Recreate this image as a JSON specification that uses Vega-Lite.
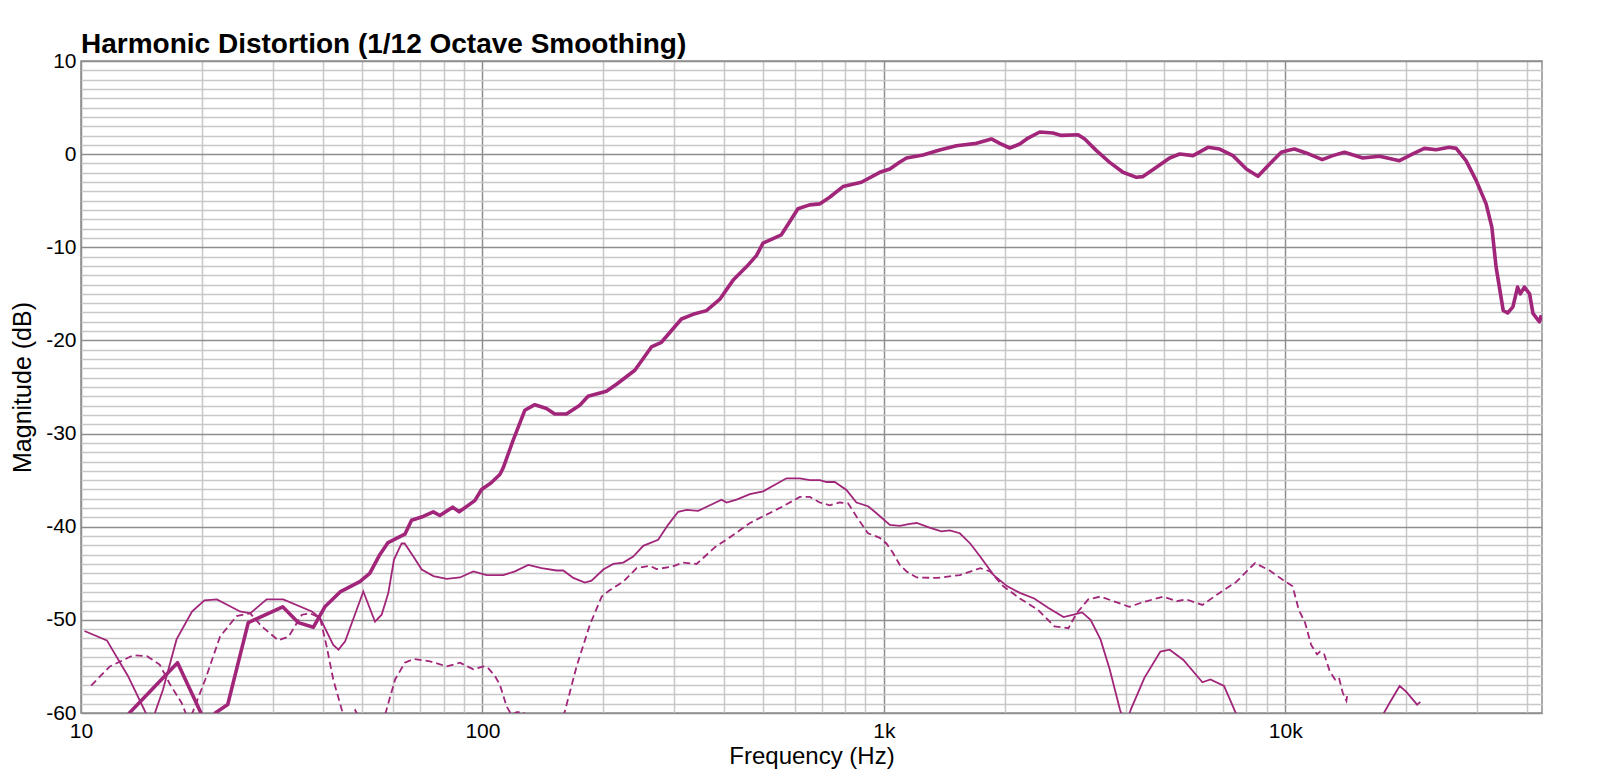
{
 "$schema": "https://vega.github.io/schema/vega-lite/v6.json",
 "width": 1461,
 "height": 652,
 "autosize": {"type": "none"},
 "padding": {"left": 81, "top": 61, "right": 58, "bottom": 70},
 "background": "white",
 "title": {"text": "Harmonic Distortion (1/12 Octave Smoothing)", "anchor": "start", "frame": "group", "font": "Liberation Sans", "fontSize": 28, "fontWeight": "bold", "color": "#000000", "offset": 5, "dy": 14},
 "config": {"view": {"stroke": "#8e8e8e", "strokeWidth": 1.5}},
 "data": {"values": [
  {"s":"F","f":12,"d":-64},{"s":"F","f":13.2,"d":-60},{"s":"F","f":17.4,"d":-54.6},{"s":"F","f":19.9,"d":-60},{"s":"F","f":20.7,"d":-62},{"s":"F","f":21.6,"d":-60},{"s":"F","f":23.2,"d":-59.1},{"s":"F","f":26.1,"d":-50.3},{"s":"F","f":31.8,"d":-48.6},{"s":"F","f":34.8,"d":-50.3},{"s":"F","f":37.9,"d":-50.8},{"s":"F","f":40.5,"d":-48.6},{"s":"F","f":44.2,"d":-47.0},{"s":"F","f":49.5,"d":-45.9},{"s":"F","f":52.4,"d":-45.0},{"s":"F","f":55.5,"d":-43.0},{"s":"F","f":58.2,"d":-41.7},{"s":"F","f":64.1,"d":-40.8},{"s":"F","f":66.6,"d":-39.3},{"s":"F","f":71.2,"d":-38.9},{"s":"F","f":75.4,"d":-38.4},{"s":"F","f":78.3,"d":-38.8},{"s":"F","f":84.3,"d":-37.9},{"s":"F","f":87.5,"d":-38.4},{"s":"F","f":95.7,"d":-37.2},{"s":"F","f":99.5,"d":-36.0},{"s":"F","f":105,"d":-35.3},{"s":"F","f":110.5,"d":-34.4},{"s":"F","f":112.6,"d":-33.7},{"s":"F","f":119.3,"d":-30.7},{"s":"F","f":127.5,"d":-27.5},{"s":"F","f":135.1,"d":-26.9},{"s":"F","f":144.4,"d":-27.3},{"s":"F","f":151.4,"d":-27.9},{"s":"F","f":161.9,"d":-27.9},{"s":"F","f":174.8,"d":-26.95},{"s":"F","f":183.3,"d":-26.0},{"s":"F","f":203.6,"d":-25.45},{"s":"F","f":215.8,"d":-24.7},{"s":"F","f":239.7,"d":-23.2},{"s":"F","f":263.6,"d":-20.7},{"s":"F","f":279.2,"d":-20.2},{"s":"F","f":313.1,"d":-17.7},{"s":"F","f":334.7,"d":-17.2},{"s":"F","f":361.4,"d":-16.8},{"s":"F","f":389.9,"d":-15.6},{"s":"F","f":420.8,"d":-13.55},{"s":"F","f":454.6,"d":-12.1},{"s":"F","f":481.4,"d":-10.9},{"s":"F","f":500,"d":-9.55},{"s":"F","f":555.5,"d":-8.66},{"s":"F","f":611,"d":-5.87},{"s":"F","f":653,"d":-5.45},{"s":"F","f":691.7,"d":-5.34},{"s":"F","f":732.8,"d":-4.63},{"s":"F","f":791,"d":-3.48},{"s":"F","f":879,"d":-3.02},{"s":"F","f":977,"d":-1.95},{"s":"F","f":1035,"d":-1.59},{"s":"F","f":1094,"d":-0.88},{"s":"F","f":1139,"d":-0.41},{"s":"F","f":1252,"d":-0.09},{"s":"F","f":1377,"d":0.45},{"s":"F","f":1516,"d":0.91},{"s":"F","f":1701,"d":1.16},{"s":"F","f":1853,"d":1.63},{"s":"F","f":1944,"d":1.16},{"s":"F","f":2059,"d":0.66},{"s":"F","f":2181,"d":1.09},{"s":"F","f":2287,"d":1.73},{"s":"F","f":2445,"d":2.38},{"s":"F","f":2638,"d":2.27},{"s":"F","f":2769,"d":2.01},{"s":"F","f":3046,"d":2.09},{"s":"F","f":3165,"d":1.63},{"s":"F","f":3385,"d":0.38},{"s":"F","f":3652,"d":-0.88},{"s":"F","f":3942,"d":-1.95},{"s":"F","f":4257,"d":-2.49},{"s":"F","f":4421,"d":-2.41},{"s":"F","f":4775,"d":-1.41},{"s":"F","f":5152,"d":-0.41},{"s":"F","f":5456,"d":0.02},{"s":"F","f":5890,"d":-0.16},{"s":"F","f":6418,"d":0.73},{"s":"F","f":6863,"d":0.55},{"s":"F","f":7405,"d":-0.16},{"s":"F","f":7998,"d":-1.59},{"s":"F","f":8549,"d":-2.38},{"s":"F","f":9141,"d":-1.05},{"s":"F","f":9772,"d":0.2},{"s":"F","f":10250,"d":0.45},{"s":"F","f":10540,"d":0.55},{"s":"F","f":11270,"d":0.13},{"s":"F","f":12360,"d":-0.59},{"s":"F","f":13130,"d":-0.16},{"s":"F","f":14040,"d":0.2},{"s":"F","f":15600,"d":-0.41},{"s":"F","f":17170,"d":-0.23},{"s":"F","f":19250,"d":-0.7},{"s":"F","f":20780,"d":0.02},{"s":"F","f":22200,"d":0.62},{"s":"F","f":23760,"d":0.48},{"s":"F","f":25600,"d":0.73},{"s":"F","f":26650,"d":0.62},{"s":"F","f":28200,"d":-0.7},{"s":"F","f":29900,"d":-2.84},{"s":"F","f":31640,"d":-5.34},{"s":"F","f":32700,"d":-7.84},{"s":"F","f":33500,"d":-12.1},{"s":"F","f":34900,"d":-16.77},{"s":"F","f":35800,"d":-17.05},{"s":"F","f":36900,"d":-16.4},{"s":"F","f":37900,"d":-14.27},{"s":"F","f":38500,"d":-15.0},{"s":"F","f":39400,"d":-14.27},{"s":"F","f":40600,"d":-15.0},{"s":"F","f":41400,"d":-17.1},{"s":"F","f":42970,"d":-18.0},{"s":"F","f":43400,"d":-17.3},
  {"s":"H2","f":10.2,"d":-51.2},{"s":"H2","f":11.6,"d":-52.2},{"s":"H2","f":13.1,"d":-56.05},{"s":"H2","f":14.5,"d":-60},{"s":"H2","f":15.0,"d":-61},{"s":"H2","f":16.0,"d":-57.5},{"s":"H2","f":17.3,"d":-52.1},{"s":"H2","f":18.9,"d":-49.1},{"s":"H2","f":20.3,"d":-47.9},{"s":"H2","f":21.8,"d":-47.8},{"s":"H2","f":24.9,"d":-49.1},{"s":"H2","f":26.4,"d":-49.3},{"s":"H2","f":29.0,"d":-47.8},{"s":"H2","f":31.9,"d":-47.8},{"s":"H2","f":37.6,"d":-49.1},{"s":"H2","f":39.4,"d":-49.8},{"s":"H2","f":42.5,"d":-52.7},{"s":"H2","f":43.8,"d":-53.2},{"s":"H2","f":45.5,"d":-52.3},{"s":"H2","f":50.5,"d":-46.95},{"s":"H2","f":54.0,"d":-50.2},{"s":"H2","f":56.1,"d":-49.45},{"s":"H2","f":58.3,"d":-47.1},{"s":"H2","f":60.2,"d":-43.55},{"s":"H2","f":62.9,"d":-41.8},{"s":"H2","f":64.0,"d":-41.8},{"s":"H2","f":67.3,"d":-43.2},{"s":"H2","f":70.6,"d":-44.6},{"s":"H2","f":75.5,"d":-45.3},{"s":"H2","f":81.5,"d":-45.6},{"s":"H2","f":87.9,"d":-45.45},{"s":"H2","f":94.9,"d":-44.8},{"s":"H2","f":102.5,"d":-45.2},{"s":"H2","f":112.7,"d":-45.2},{"s":"H2","f":120.5,"d":-44.8},{"s":"H2","f":130.1,"d":-44.1},{"s":"H2","f":140.4,"d":-44.45},{"s":"H2","f":153,"d":-44.7},{"s":"H2","f":159,"d":-44.7},{"s":"H2","f":168.4,"d":-45.5},{"s":"H2","f":180,"d":-46.0},{"s":"H2","f":187,"d":-45.8},{"s":"H2","f":200,"d":-44.6},{"s":"H2","f":211.8,"d":-44.0},{"s":"H2","f":224.3,"d":-43.85},{"s":"H2","f":237.5,"d":-43.2},{"s":"H2","f":251.5,"d":-42.05},{"s":"H2","f":274,"d":-41.4},{"s":"H2","f":290,"d":-39.8},{"s":"H2","f":307.4,"d":-38.4},{"s":"H2","f":322.6,"d":-38.2},{"s":"H2","f":344.7,"d":-38.3},{"s":"H2","f":368.7,"d":-37.7},{"s":"H2","f":394.2,"d":-37.1},{"s":"H2","f":405.6,"d":-37.4},{"s":"H2","f":429.6,"d":-37.1},{"s":"H2","f":463.8,"d":-36.5},{"s":"H2","f":500.4,"d":-36.2},{"s":"H2","f":535.2,"d":-35.5},{"s":"H2","f":572.2,"d":-34.8},{"s":"H2","f":617.6,"d":-34.8},{"s":"H2","f":654,"d":-35.0},{"s":"H2","f":692.6,"d":-35.0},{"s":"H2","f":719.6,"d":-35.2},{"s":"H2","f":754.6,"d":-35.2},{"s":"H2","f":807,"d":-36.05},{"s":"H2","f":854.5,"d":-37.4},{"s":"H2","f":913.3,"d":-37.8},{"s":"H2","f":958.7,"d":-38.55},{"s":"H2","f":1035,"d":-39.8},{"s":"H2","f":1096,"d":-39.9},{"s":"H2","f":1161,"d":-39.7},{"s":"H2","f":1207,"d":-39.6},{"s":"H2","f":1300,"d":-40.1},{"s":"H2","f":1390,"d":-40.5},{"s":"H2","f":1459,"d":-40.4},{"s":"H2","f":1546,"d":-40.7},{"s":"H2","f":1641,"d":-41.8},{"s":"H2","f":1737,"d":-43.2},{"s":"H2","f":1877,"d":-45.2},{"s":"H2","f":2031,"d":-46.4},{"s":"H2","f":2181,"d":-47.1},{"s":"H2","f":2369,"d":-47.7},{"s":"H2","f":2565,"d":-48.7},{"s":"H2","f":2803,"d":-49.7},{"s":"H2","f":2969,"d":-49.45},{"s":"H2","f":3118,"d":-49.2},{"s":"H2","f":3273,"d":-50.0},{"s":"H2","f":3465,"d":-52.1},{"s":"H2","f":3652,"d":-55.3},{"s":"H2","f":3872,"d":-59.6},{"s":"H2","f":4000,"d":-61.5},{"s":"H2","f":4124,"d":-59.6},{"s":"H2","f":4460,"d":-56.2},{"s":"H2","f":4885,"d":-53.4},{"s":"H2","f":5152,"d":-53.2},{"s":"H2","f":5574,"d":-54.3},{"s":"H2","f":6216,"d":-56.7},{"s":"H2","f":6508,"d":-56.4},{"s":"H2","f":7037,"d":-57.1},{"s":"H2","f":7405,"d":-59.3},{"s":"H2","f":7560,"d":-60.2},{"s":"H2","f":8500,"d":-64},{"s":"H2","f":16500,"d":-64},{"s":"H2","f":17500,"d":-60.2},{"s":"H2","f":18200,"d":-58.9},{"s":"H2","f":19270,"d":-57.1},{"s":"H2","f":20000,"d":-57.7},{"s":"H2","f":21300,"d":-59.1},{"s":"H2","f":21700,"d":-58.8},
  {"s":"H3","f":10.6,"d":-57.05},{"s":"H3","f":11.8,"d":-55.0},{"s":"H3","f":13.5,"d":-53.8},{"s":"H3","f":14.6,"d":-53.9},{"s":"H3","f":15.7,"d":-54.8},{"s":"H3","f":16.7,"d":-57.0},{"s":"H3","f":17.8,"d":-58.9},{"s":"H3","f":18.3,"d":-60.2},{"s":"H3","f":18.6,"d":-61},{"s":"H3","f":18.9,"d":-60.1},{"s":"H3","f":20.4,"d":-56.4},{"s":"H3","f":22.2,"d":-51.8},{"s":"H3","f":24.4,"d":-49.6},{"s":"H3","f":26.4,"d":-49.3},{"s":"H3","f":28.2,"d":-50.7},{"s":"H3","f":31.0,"d":-52.2},{"s":"H3","f":32.9,"d":-51.8},{"s":"H3","f":35.5,"d":-49.45},{"s":"H3","f":37.2,"d":-49.3},{"s":"H3","f":39.4,"d":-49.8},{"s":"H3","f":40.9,"d":-52.8},{"s":"H3","f":42.5,"d":-56.4},{"s":"H3","f":45.0,"d":-60.2},{"s":"H3","f":46.5,"d":-61},{"s":"H3","f":48.2,"d":-59.7},{"s":"H3","f":50,"d":-61},{"s":"H3","f":54,"d":-63},{"s":"H3","f":57.2,"d":-60.2},{"s":"H3","f":60.6,"d":-56.4},{"s":"H3","f":64.1,"d":-54.6},{"s":"H3","f":67.3,"d":-54.2},{"s":"H3","f":74.0,"d":-54.45},{"s":"H3","f":81.5,"d":-55.0},{"s":"H3","f":87.9,"d":-54.6},{"s":"H3","f":94.9,"d":-55.3},{"s":"H3","f":100.5,"d":-55.0},{"s":"H3","f":103,"d":-55.1},{"s":"H3","f":107.5,"d":-56.05},{"s":"H3","f":110.6,"d":-57.0},{"s":"H3","f":114.9,"d":-59.3},{"s":"H3","f":118.2,"d":-60.2},{"s":"H3","f":121.7,"d":-59.9},{"s":"H3","f":126.5,"d":-59.9},{"s":"H3","f":130,"d":-61},{"s":"H3","f":145,"d":-62},{"s":"H3","f":157,"d":-61},{"s":"H3","f":160.5,"d":-59.8},{"s":"H3","f":171.6,"d":-55.0},{"s":"H3","f":185.3,"d":-50.5},{"s":"H3","f":198.2,"d":-47.5},{"s":"H3","f":207.8,"d":-46.8},{"s":"H3","f":224.3,"d":-45.9},{"s":"H3","f":242.2,"d":-44.45},{"s":"H3","f":261.4,"d":-44.2},{"s":"H3","f":271.5,"d":-44.55},{"s":"H3","f":296,"d":-44.3},{"s":"H3","f":316.5,"d":-43.85},{"s":"H3","f":341.6,"d":-44.0},{"s":"H3","f":379.5,"d":-42.2},{"s":"H3","f":421.3,"d":-40.9},{"s":"H3","f":463.8,"d":-39.6},{"s":"H3","f":510.5,"d":-38.7},{"s":"H3","f":561,"d":-37.8},{"s":"H3","f":617.6,"d":-36.8},{"s":"H3","f":654,"d":-36.8},{"s":"H3","f":692.6,"d":-37.4},{"s":"H3","f":733,"d":-37.7},{"s":"H3","f":776,"d":-37.4},{"s":"H3","f":815,"d":-37.5},{"s":"H3","f":854.5,"d":-38.9},{"s":"H3","f":913,"d":-40.7},{"s":"H3","f":977,"d":-41.2},{"s":"H3","f":1015,"d":-41.8},{"s":"H3","f":1053,"d":-42.8},{"s":"H3","f":1096,"d":-44.1},{"s":"H3","f":1139,"d":-44.8},{"s":"H3","f":1207,"d":-45.45},{"s":"H3","f":1354,"d":-45.5},{"s":"H3","f":1546,"d":-45.2},{"s":"H3","f":1737,"d":-44.45},{"s":"H3","f":1840,"d":-44.8},{"s":"H3","f":1985,"d":-46.4},{"s":"H3","f":2181,"d":-47.7},{"s":"H3","f":2417,"d":-48.9},{"s":"H3","f":2660,"d":-50.7},{"s":"H3","f":2883,"d":-50.9},{"s":"H3","f":3020,"d":-49.3},{"s":"H3","f":3230,"d":-47.8},{"s":"H3","f":3465,"d":-47.5},{"s":"H3","f":3736,"d":-48.0},{"s":"H3","f":4087,"d":-48.6},{"s":"H3","f":4421,"d":-48.1},{"s":"H3","f":4973,"d":-47.5},{"s":"H3","f":5365,"d":-48.0},{"s":"H3","f":5669,"d":-47.8},{"s":"H3","f":6216,"d":-48.4},{"s":"H3","f":6753,"d":-47.3},{"s":"H3","f":7560,"d":-45.9},{"s":"H3","f":8405,"d":-43.9},{"s":"H3","f":9141,"d":-44.7},{"s":"H3","f":9852,"d":-45.7},{"s":"H3","f":10430,"d":-46.4},{"s":"H3","f":10800,"d":-48.9},{"s":"H3","f":11200,"d":-50.3},{"s":"H3","f":11600,"d":-52.7},{"s":"H3","f":12000,"d":-53.7},{"s":"H3","f":12200,"d":-53.4},{"s":"H3","f":12500,"d":-53.7},{"s":"H3","f":12900,"d":-55.5},{"s":"H3","f":13300,"d":-56.4},{"s":"H3","f":13600,"d":-56.2},{"s":"H3","f":13900,"d":-57.8},{"s":"H3","f":14200,"d":-58.7},{"s":"H3","f":14300,"d":-57.8}
 ]},
 "encoding": {
  "x": {"field": "f", "type": "quantitative",
   "scale": {"type": "log", "domain": [10, 43600], "nice": false},
   "axis": {"title": "Frequency (Hz)",
    "values": [10,20,30,40,50,60,70,80,90,100,200,300,400,500,600,700,800,900,1000,2000,3000,4000,5000,6000,7000,8000,9000,10000,20000,30000,40000],
    "labelExpr": "datum.value==10?'10':datum.value==100?'100':datum.value==1000?'1k':datum.value==10000?'10k':''",
    "labelFlush": false, "labelOverlap": false, "ticks": false, "domain": false, "grid": true,
    "gridColor": {"condition": {"test": "datum.value==10||datum.value==100||datum.value==1000||datum.value==10000", "value": "#8e8e8e"}, "value": "#c8c8c8"},
    "gridWidth": 1.5,
    "labelFont": "Liberation Sans", "labelFontSize": 21, "labelColor": "#000000", "labelPadding": 7,
    "titleFont": "Liberation Sans", "titleFontSize": 24, "titleFontWeight": "normal", "titleColor": "#000000", "titlePadding": 3}},
  "y": {"field": "d", "type": "quantitative",
   "scale": {"domain": [-60, 10], "nice": false, "zero": false},
   "axis": {"title": "Magnitude (dB)",
    "values": [-60,-59,-58,-57,-56,-55,-54,-53,-52,-51,-50,-49,-48,-47,-46,-45,-44,-43,-42,-41,-40,-39,-38,-37,-36,-35,-34,-33,-32,-31,-30,-29,-28,-27,-26,-25,-24,-23,-22,-21,-20,-19,-18,-17,-16,-15,-14,-13,-12,-11,-10,-9,-8,-7,-6,-5,-4,-3,-2,-1,0,1,2,3,4,5,6,7,8,9,10],
    "labelExpr": "datum.value%10===0 ? toString(datum.value) : ''",
    "labelOverlap": false, "ticks": false, "domain": false, "grid": true,
    "gridColor": {"condition": {"test": "datum.value%10===0", "value": "#8e8e8e"}, "value": "#c8c8c8"},
    "gridWidth": 1.5,
    "labelFont": "Liberation Sans", "labelFontSize": 21, "labelColor": "#000000", "labelPadding": 5,
    "titleFont": "Liberation Sans", "titleFontSize": 25, "titleFontWeight": "normal", "titleColor": "#000000", "titlePadding": 10}}
 },
 "layer": [
  {"transform": [{"filter": "datum.s==='H3'"}], "mark": {"type": "line", "clip": true, "color": "#a1267a", "strokeWidth": 1.8, "strokeDash": [7, 4]}},
  {"transform": [{"filter": "datum.s==='H2'"}], "mark": {"type": "line", "clip": true, "color": "#a1267a", "strokeWidth": 1.8}},
  {"transform": [{"filter": "datum.s==='F'"}], "mark": {"type": "line", "clip": true, "color": "#a1267a", "strokeWidth": 3.6, "strokeJoin": "round"}}
 ]
}
